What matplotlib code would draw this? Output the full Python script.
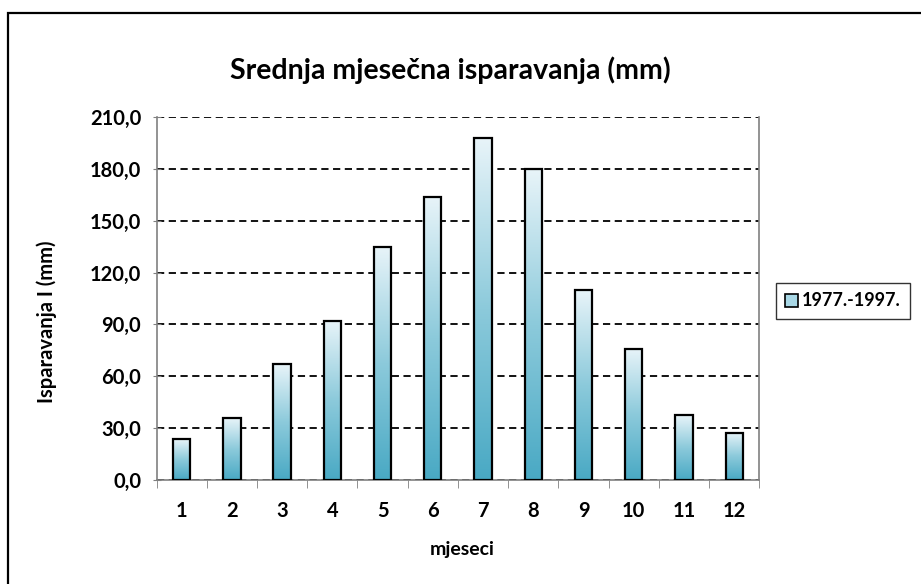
import matplotlib.pyplot as plt
import matplotlib.patches as mpatches
from matplotlib.colors import LinearSegmentedColormap
from matplotlib.ticker import FuncFormatter, MultipleLocator
import numpy as np

plt.rcParams['font.family'] = ['Lato', 'DejaVu Sans']

months = ['1', '2', '3', '4', '5', '6', '7', '8', '9', '10', '11', '12']
evaporation = [23.7, 35.7, 67.1, 92.2, 134.8, 163.9, 197.8, 179.9, 109.7, 75.8, 37.6, 27.2]
series_name = '1977.-1997.'

fig = plt.figure(figsize=(9.21, 5.84), dpi=100)
W, H = 921, 584
ax = fig.add_axes([156.5 / W, 1 - 480 / H, (759.3 - 156.5) / W, (480 - 117) / H])

# outer chart frame (only top and left edges are visible in the crop)
fig.patches.append(mpatches.Rectangle((8 / W, -0.1), 1.2, 1 - 13 / H + 0.1,
                                      transform=fig.transFigure, fill=False,
                                      edgecolor='black', linewidth=1.6))

x = np.arange(len(months))
bw = 0.345
cmap = LinearSegmentedColormap.from_list('aqua', ['#49a9c4', '#8ccadb', '#e8f4f9'])
grad = np.linspace(0, 1, 256).reshape(-1, 1)

ax.set_xlim(-0.5, len(months) - 0.5)
ax.set_ylim(0, 210)

ax.yaxis.set_major_locator(MultipleLocator(30))
ax.yaxis.grid(True, linestyle=(0, (4, 2.5)), color='black', linewidth=1.3)
ax.set_axisbelow(True)

for xi, v in zip(x, evaporation):
    ax.imshow(grad, extent=(xi - bw / 2, xi + bw / 2, 0, v), origin='lower',
              cmap=cmap, aspect='auto', zorder=2, interpolation='bilinear')
ax.bar(x, evaporation, width=bw, facecolor='none', edgecolor='black',
       linewidth=1.6, zorder=3)
ax.set_aspect('auto')

ax.set_xticks(x)
ax.set_xticklabels(months)
ax.set_xticks(np.arange(-0.5, len(months), 1), minor=True)
ax.tick_params(axis='x', which='major', length=0, pad=15, labelsize=14.5)
ax.tick_params(axis='x', which='minor', length=6, direction='out', color='#808080')
ax.tick_params(axis='y', length=6, direction='inout', color='#808080', labelsize=14.5, pad=8)
ax.yaxis.set_major_formatter(FuncFormatter(lambda v, p: f'{v:.1f}'.replace('.', ',')))
for lbl in ax.get_xticklabels() + ax.get_yticklabels():
    lbl.set_fontweight('bold')

for s in ['left', 'bottom', 'right']:
    ax.spines[s].set_color('#808080')
    ax.spines[s].set_linewidth(1.2)
ax.spines['top'].set_visible(False)

fig.text(462 / W, 1 - 550 / H, 'mjeseci', ha='center', va='center',
         fontsize=14, fontweight='bold')
fig.text(47 / W, 1 - 322 / H, 'Isparavanja I (mm)', ha='center', va='center',
         rotation=90, fontsize=14.5, fontweight='bold')
fig.text(450 / W, 1 - 70 / H, 'Srednja mjesečna isparavanja (mm)',
         ha='center', va='center', fontsize=20.5, fontweight='bold')

handle = mpatches.Patch(facecolor='#a9d8e6', edgecolor='black', linewidth=1.2)
leg = fig.legend([handle], [series_name], loc='center', bbox_to_anchor=(843 / W, 1 - 301 / H),
                 frameon=True, fancybox=False, edgecolor='black', handlelength=0.7,
                 handleheight=0.7, handletextpad=0.25, borderpad=0.5,
                 prop={'weight': 'bold', 'size': 13})
leg.get_frame().set_linewidth(1.0)

fig.savefig('out.png', dpi=100)
